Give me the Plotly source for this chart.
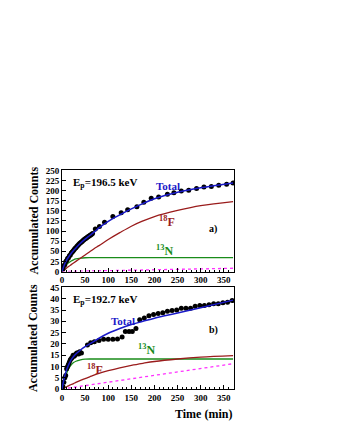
import plotly.graph_objects as go
from plotly.subplots import make_subplots

# ---- panel a) Ep = 196.5 keV ----
a_pts_t = [2, 4, 6, 8, 10, 12, 14, 16, 18, 20, 22, 24, 26, 28, 30, 32, 34, 36, 38, 40,
           42, 44, 46, 48, 50, 52, 54, 56, 58, 60, 62, 64, 66,
           72, 81, 92, 110, 128, 142, 162, 177, 193, 209, 228, 242, 258, 274, 291, 307,
           323, 339, 356, 370]
a_pts_y = [6, 14, 17, 24, 27, 32, 34, 39, 41, 46, 48, 51, 54, 57, 59, 62, 64, 67, 69, 71,
           73, 75, 77, 79, 81, 82, 84, 86, 87, 89, 90, 92, 94,
           105, 111, 122, 136, 145, 153, 160, 171, 181, 184, 191, 195, 199, 201, 205, 209,
           210, 213, 216, 219]

a_curve_t = [0, 5, 10, 15, 20, 25, 30, 40, 50, 60, 70, 80, 100, 125, 150, 175, 200, 250, 300, 370]
a_total = [0, 16, 28, 37, 45, 52, 58, 70, 80, 89, 98, 108, 124, 140, 155, 168, 180, 196, 207, 219]
a_n13 = [0, 10, 17, 22, 26, 29, 31, 33, 34, 34.3, 34.3, 34.3, 34.3, 34.3, 34.3, 34.3, 34.3, 34.3, 34.3, 34.3]
a_f18 = [0, 4, 8.5, 13, 17, 21, 25, 33, 41, 49, 57, 64, 79, 96, 112, 125, 136, 151, 163, 173]
a_bg_t = [0, 370]
a_bg = [0, 8]

# ---- panel b) Ep = 192.7 keV ----
b_pts_t = [2, 4, 6, 8, 10, 12, 14, 16, 18, 20, 22, 24, 26, 28, 30, 32, 34, 36, 38, 42,
           55, 62, 70, 80, 90, 100, 110, 120, 130, 137, 145, 152, 160, 168, 178, 188, 198,
           208, 218, 228, 238, 248, 258, 268, 278, 288, 298, 308, 318, 328, 338, 348, 358, 368]
b_pts_y = [1, 3, 5, 6, 9, 10, 11, 12, 13, 13.5, 14, 15, 14.5, 15, 15.5, 16, 16, 15.5, 16.5, 16,
           19.5, 20.5, 21, 21.5, 22, 22, 22, 22.2, 23, 25.5, 25.5, 25.5, 26.8, 30.7, 31.5, 32.5, 33,
           33.5, 33.8, 34.5, 34.8, 35, 35.8, 35.8, 35.8, 36.7, 37, 37, 37.3, 37.8, 37.8, 38.2, 38.5, 39.2]

b_curve_t = [0, 5, 10, 15, 20, 25, 30, 40, 50, 60, 80, 100, 125, 150, 175, 200, 250, 300, 370]
b_total = [0, 5, 8.5, 11, 13, 14.4, 15.5, 17.3, 18.8, 20, 22.5, 24.7, 26.8, 28.6, 30, 31.4, 33.7, 36, 39.4]
b_n13 = [0, 4.2, 7.0, 9.2, 10.7, 11.7, 12.3, 12.9, 13.2, 13.3, 13.3, 13.3, 13.3, 13.3, 13.3, 13.3, 13.3, 13.3, 13.3]
b_f18 = [0, 0.5, 1.0, 1.5, 2.0, 2.4, 2.9, 3.8, 4.6, 5.4, 6.9, 8.1, 9.4, 10.5, 11.4, 12.2, 13.3, 14.1, 14.8]
b_bg_t = [0, 370]
b_bg = [0, 11.2]

x_ticks = [0, 50, 100, 150, 200, 250, 300, 350]
a_ticks = [0, 25, 50, 75, 100, 125, 150, 175, 200, 225, 250]
b_ticks = [0, 5, 10, 15, 20, 25, 30, 35, 40, 45]

BLUE = "#1a1ac8"
RED = "#9a1c1c"
GREEN = "#1a8c1a"
PINK = "#ff30ff"
FONT = "Liberation Serif"

fig = make_subplots(rows=2, cols=1, vertical_spacing=0.073)

for row, (pt, py, ct, tot, n13, f18, bt, bg) in enumerate([
        (a_pts_t, a_pts_y, a_curve_t, a_total, a_n13, a_f18, a_bg_t, a_bg),
        (b_pts_t, b_pts_y, b_curve_t, b_total, b_n13, b_f18, b_bg_t, b_bg)], start=1):
    fig.add_trace(go.Scatter(x=bt, y=bg, mode="lines",
                             line=dict(color=PINK, width=1.3, dash="dot")), row=row, col=1)
    fig.add_trace(go.Scatter(x=ct, y=n13, mode="lines", line_shape="spline",
                             line=dict(color=GREEN, width=1.3)), row=row, col=1)
    fig.add_trace(go.Scatter(x=ct, y=f18, mode="lines", line_shape="spline",
                             line=dict(color=RED, width=1.3)), row=row, col=1)
    fig.add_trace(go.Scatter(x=pt, y=py, mode="markers",
                             marker=dict(color="black", size=5)), row=row, col=1)
    fig.add_trace(go.Scatter(x=ct, y=tot, mode="lines", line_shape="spline",
                             line=dict(color=BLUE, width=1.5)), row=row, col=1)

axis_common = dict(showline=True, linecolor="black", linewidth=1, mirror=True,
                   ticks="inside", tickcolor="black", showgrid=False, zeroline=False,
                   automargin=False, ticklen=4,
                   tickfont=dict(family=FONT, size=9, color="black", weight="bold"))
ytitle_font = dict(family=FONT, size=12, color="black")

for row in (1, 2):
    fig.update_xaxes(range=[0, 372], tickvals=x_ticks,
                     minor=dict(dtick=10, ticks="inside", ticklen=2, tickcolor="black"),
                     row=row, col=1, **axis_common)

fig.update_yaxes(range=[0, 251], tickvals=a_ticks,
                 title=dict(text="<b>Accumulated Counts</b>", standoff=4, font=ytitle_font),
                 row=1, col=1, **axis_common)
fig.update_yaxes(range=[0, 45], tickvals=b_ticks,
                 title=dict(text="<b>Accumulated Counts</b>", standoff=9, font=ytitle_font),
                 row=2, col=1, **axis_common)


def label(text, x, y, color, xref, yref, size=10, xanchor="left"):
    fig.add_annotation(text="<b>" + text + "</b>", x=x, y=y, xref=xref, yref=yref,
                       showarrow=False, xanchor=xanchor,
                       font=dict(family=FONT, size=size, color=color))


label("E<sub>p</sub>=196.5 keV", 20, 220, "black", "x", "y", size=11)
label("Total", 200, 212, BLUE, "x", "y", size=11)
label("<sup>18</sup>F", 205, 123, RED, "x", "y", size=12)
label("<sup>13</sup>N", 200, 52, GREEN, "x", "y", size=12)
label("a)", 313, 105, "black", "x", "y")

label("E<sub>p</sub>=192.7 keV", 20, 39.5, "black", "x2", "y2", size=11)
label("Total", 102, 30.3, BLUE, "x2", "y2", size=11)
label("<sup>13</sup>N", 160, 17.3, GREEN, "x2", "y2", size=12)
label("<sup>18</sup>F", 50, 8.7, RED, "x2", "y2", size=12)
label("b)", 313, 26, "black", "x2", "y2")

fig.add_annotation(text="<b>Time (min)</b>", x=1, y=-0.075, xref="paper", yref="paper",
                   xanchor="right", yanchor="top", showarrow=False,
                   font=dict(family=FONT, size=12, color="black"))

# the page body adds an 8px offset, so margins are reduced accordingly
fig.update_layout(width=338, height=437, showlegend=False,
                  margin=dict(l=54, r=112, t=162, b=56),
                  paper_bgcolor="white", plot_bgcolor="white")

fig.write_html("out.html")
